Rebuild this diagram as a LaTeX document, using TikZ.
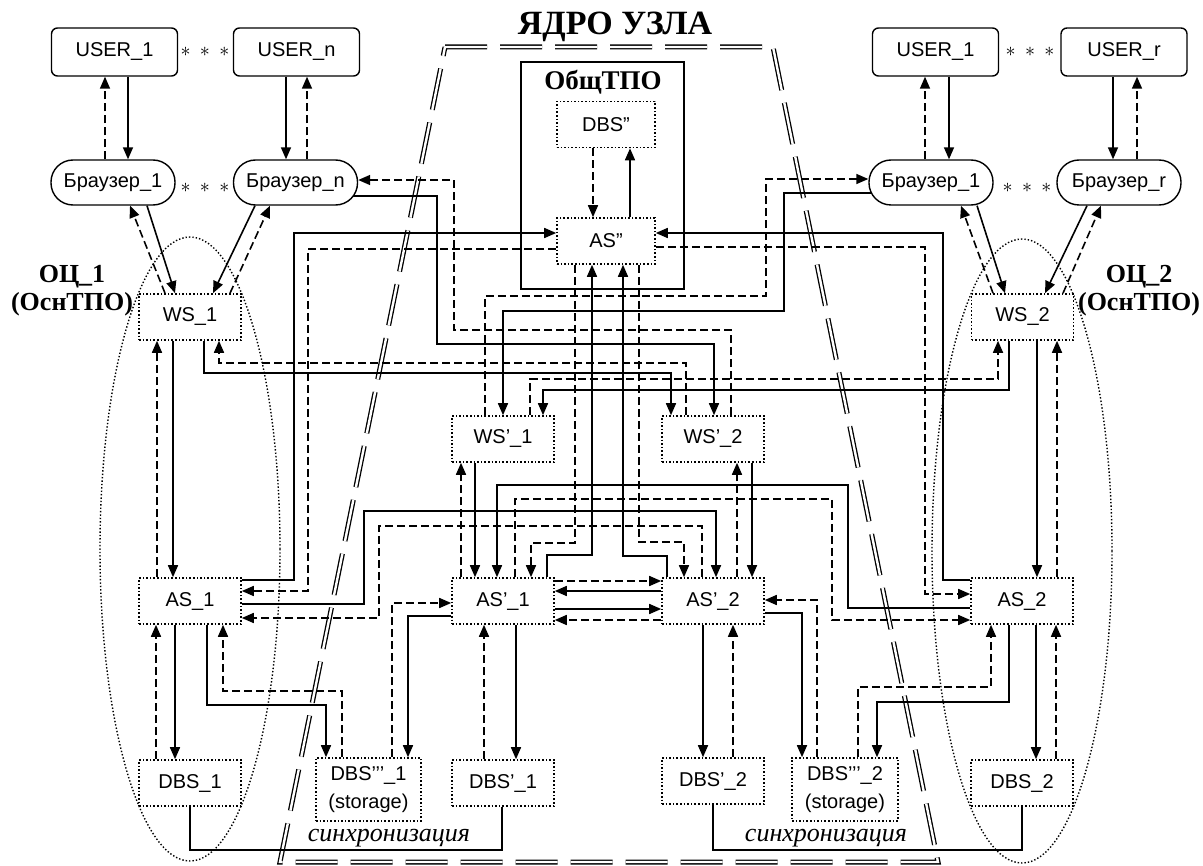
\documentclass[tikz,border=0pt]{standalone}
\usepackage{fontspec}
\setmainfont{Liberation Serif}
\setsansfont{Liberation Sans}
\usetikzlibrary{arrows.meta,calc}
\pgfdeclarelayer{background}
\pgfsetlayers{background,main}
\tikzset{
  srv/.style={draw,densely dotted,line width=0.8pt,fill=white,minimum width=51pt,minimum height=23pt,inner sep=1pt,align=center,font=\sffamily\fontsize{10}{14}\selectfont},
  usr/.style={draw,rounded corners=3pt,line width=0.7pt,fill=white,minimum width=63pt,minimum height=24pt,font=\sffamily\fontsize{10}{12}\selectfont},
  brw/.style={draw,rounded corners=11pt,line width=0.7pt,fill=white,minimum width=62pt,minimum height=22.5pt,inner sep=1pt,font=\sffamily\fontsize{10}{12}\selectfont},
  sol/.style={line width=0.8pt,-{Triangle[length=6pt,width=5pt]}},
  dsh/.style={sol,dash pattern=on 4pt off 2pt},
  lnk/.style={line width=0.8pt},
  ttl/.style={font=\bfseries\fontsize{13}{14}\selectfont,align=center},
  sync/.style={font=\itshape\fontsize{13}{14}\selectfont},
}
\begin{document}
\begin{tikzpicture}[x=0.5pt,y=-0.5pt]
\useasboundingbox (0,0) rectangle (1203,866);
% users
\node[usr] (u1L) at (114.5,52) {USER\_1};
\node[usr] (unL) at (296.5,52) {USER\_n};
\node[usr] (u1R) at (935.5,52) {USER\_1};
\node[usr] (urR) at (1124,52) {USER\_r};
\node (stuL) at (205,52) {$\ast\ \ast\ \ast$};
\node (stuR) at (1030,52) {$\ast\ \ast\ \ast$};
% browsers
\node[brw] (b1L) at (113,182.5) {Браузер\_1};
\node[brw] (bnL) at (295.5,182.5) {Браузер\_n};
\node[brw] (b1R) at (931,182.5) {Браузер\_1};
\node[brw] (brR) at (1119,182.5) {Браузер\_r};
\node (stbL) at (205,188) {$\ast\ \ast\ \ast$};
\node (stbR) at (1027,188) {$\ast\ \ast\ \ast$};
% OC_1 and OC_2
\node[srv] (ws1) at (190,317) {WS\_1};
\node[srv] (as1) at (190,601) {AS\_1};
\node[srv] (dbs1) at (190,783) {DBS\_1};
\node[srv] (ws2) at (1022.5,317) {WS\_2};
\node[srv] (as2) at (1022,601) {AS\_2};
\node[srv] (dbs2) at (1022,783) {DBS\_2};
\node[ttl] (oc1) at (72,291) {ОЦ\_1\\(ОснТПО)};
\node[ttl] (oc2) at (1139,291) {ОЦ\_2\\(ОснТПО)};
% core
\node[srv] (wsp1) at (503,439) {WS’\_1};
\node[srv] (wsp2) at (713,439) {WS’\_2};
\node[srv] (asp1) at (503,601) {AS’\_1};
\node[srv] (asp2) at (713,601) {AS’\_2};
\node[srv] (dbsp1) at (503,783) {DBS’\_1};
\node[srv] (dbsp2) at (713,781) {DBS’\_2};
\node[srv,minimum width=52.5pt,minimum height=31.5pt] (dbst1) at (368.5,789.5) {DBS’’’\_1\\(storage)};
\node[srv,minimum width=53pt,minimum height=31.5pt] (dbst2) at (845,789.5) {DBS’’’\_2\\(storage)};
\node[srv,minimum width=49pt] (dbsdd) at (606,124.5) {DBS”};
\node[srv,minimum width=49pt] (asdd) at (606,241) {AS”};
\draw[line width=0.8pt] (521,62) rectangle (684,289);
\node[ttl,font=\bfseries\fontsize{13.5}{14}\selectfont] (obtpo) at (603,82) {ОбщТПО};
\node[font=\bfseries\fontsize{17}{20}\selectfont] (yadro) at (615,27) {ЯДРО УЗЛА};
\node[sync] (syncL) at (389,838) {синхронизация};
\node[sync] (syncR) at (826,838) {синхронизация};

\begin{pgfonlayer}{background}
% borders
\draw[double,double distance=1.2pt,line width=0.65pt,dash pattern=on 21pt off 6.5pt]
  (445,47) -- (773,47) -- (938,862) -- (280,862) -- cycle;
\draw[densely dotted,line width=0.7pt] (190,549) ellipse [x radius=45pt,y radius=156pt];
\draw[densely dotted,line width=0.7pt] (1022,551) ellipse [x radius=45pt,y radius=156pt];
% user <-> browser
\draw[sol] (u1L.south -| 128,0) -- (b1L.north -| 128,0);
\draw[dsh] (b1L.north -| 105,0) -- (u1L.south -| 105,0);
\draw[sol] (unL.south -| 286,0) -- (bnL.north -| 286,0);
\draw[dsh] (bnL.north -| 307,0) -- (unL.south -| 307,0);
\draw[sol] (u1R.south -| 949,0) -- (b1R.north -| 949,0);
\draw[dsh] (b1R.north -| 925,0) -- (u1R.south -| 925,0);
\draw[sol] (urR.south -| 1113,0) -- (brR.north -| 1113,0);
\draw[dsh] (brR.north -| 1137,0) -- (urR.south -| 1137,0);
% browser <-> WS
\draw[sol] (b1L.south -| 147,0) -- (ws1.north -| 175,0);
\draw[dsh] (ws1.north -| 165,0) -- (b1L.south -| 130,0);
\draw[sol] (bnL.south -| 255,0) -- (ws1.north -| 213,0);
\draw[dsh] (ws1.north -| 230,0) -- (bnL.south -| 270,0);
\draw[sol] (b1R.south -| 977,0) -- (ws2.north -| 1005,0);
\draw[dsh] (ws2.north -| 993,0) -- (b1R.south -| 961,0);
\draw[sol] (brR.south -| 1087,0) -- (ws2.north -| 1045,0);
\draw[dsh] (ws2.north -| 1063,0) -- (brR.south -| 1101,0);
% OC_1
\draw[sol] (ws1.south -| 173,0) -- (as1.north -| 173,0);
\draw[dsh] (as1.north -| 157,0) -- (ws1.south -| 157,0);
\draw[sol] (as1.south -| 175,0) -- (dbs1.north -| 175,0);
\draw[dsh] (dbs1.north -| 156,0) -- (as1.south -| 156,0);
\draw[sol] (as1.south -| 207,0) -- (207,705) -| (dbst1.north -| 326,0);
\draw[dsh] (dbst1.north -| 342,0) -- (342,691) -| (as1.south -| 223,0);
% OC_2
\draw[sol] (ws2.south -| 1037,0) -- (as2.north -| 1037,0);
\draw[dsh] (as2.north -| 1057,0) -- (ws2.south -| 1057,0);
\draw[sol] (as2.south -| 1036,0) -- (dbs2.north -| 1036,0);
\draw[dsh] (dbs2.north -| 1056,0) -- (as2.south -| 1056,0);
\draw[sol] (as2.south -| 1009,0) -- (1009,702) -| (dbst2.north -| 877,0);
\draw[dsh] (dbst2.north -| 858,0) -- (858,687) -| (as2.south -| 991,0);
% core
\draw[sol] (wsp1.south -| 475,0) -- (asp1.north -| 475,0);
\draw[dsh] (asp1.north -| 461,0) -- (wsp1.south -| 461,0);
\draw[sol] (wsp2.south -| 752,0) -- (asp2.north -| 752,0);
\draw[dsh] (asp2.north -| 737,0) -- (wsp2.south -| 737,0);
\draw[sol] (asp1.south -| 516,0) -- (dbsp1.north -| 516,0);
\draw[dsh] (dbsp1.north -| 484,0) -- (asp1.south -| 484,0);
\draw[sol] (asp2.south -| 703,0) -- (dbsp2.north -| 703,0);
\draw[dsh] (dbsp2.north -| 733,0) -- (asp2.south -| 733,0);
\draw[dsh] (asp1.east |- 0,581) -- (asp2.west |- 0,581);
\draw[sol] (asp2.west |- 0,591) -- (asp1.east |- 0,591);
\draw[sol] (asp1.east |- 0,609) -- (asp2.west |- 0,609);
\draw[dsh] (asp2.west |- 0,620) -- (asp1.east |- 0,620);
\draw[sol] (asp1.west |- 0,616) -| (dbst1.north -| 408,0);
\draw[dsh] (dbst1.north -| 392,0) |- (asp1.west |- 0,603);
\draw[sol] (asp2.east |- 0,613) -| (dbst2.north -| 802,0);
\draw[dsh] (dbst2.north -| 817,0) |- (asp2.east |- 0,600);
% common AS''
\draw[dsh] (dbsdd.south -| 593,0) -- (asdd.north -| 593,0);
\draw[sol] (asdd.north -| 630,0) -- (dbsdd.south -| 630,0);
\draw[sol] (asp1.north -| 547,0) -- (547,555) -| (asdd.south -| 592,0);
\draw[sol] (asp2.north -| 667,0) -- (667,556) -| (asdd.south -| 623,0);
\draw[dsh] (asdd.south -| 575,0) -- (575,543) -| (asp1.north -| 531,0);
\draw[dsh] (asdd.south -| 639,0) -- (639,542) -| (asp2.north -| 684,0);
% long routes
\draw[dsh] (wsp2.north -| 731,0) -- (731,330) -| (454,180) -- (bnL.east |- 0,180);
\draw[sol] (bnL.center |- 0,196) -- (437,196) |- (714,344) -- (wsp2.north -| 714,0);
\draw[dsh] (wsp1.north -| 485,0) -- (485,296) -| (766,179) -- (b1R.west |- 0,179);
\draw[sol] (b1R.center |- 0,193) -- (784,193) |- (503,311) -- (wsp1.north -| 503,0);
\draw[sol] (as1.east |- 0,580) -| (294,233) -- (asdd.west |- 0,233);
\draw[dsh] (asdd.west |- 0,249) -| (308,591) -- (as1.east |- 0,591);
\draw[sol] (ws1.south -| 204,0) |- (671,373) -- (wsp2.north -| 671,0);
\draw[dsh] (wsp2.north -| 686,0) |- (219,363) -- (ws1.south -| 219,0);
\draw[sol] (as2.west |- 0,580) -| (943,233) -- (asdd.east |- 0,233);
\draw[dsh] (asdd.east |- 0,247) -| (925,594) -- (as2.west |- 0,594);
\draw[sol] (ws2.south -| 1009,0) |- (543,390) -- (wsp1.north -| 543,0);
\draw[dsh] (wsp1.north -| 530,0) |- (998,379) -- (ws2.south -| 998,0);
\draw[sol] (as2.west |- 0,608) -| (848,485) -| (asp1.north -| 497,0);
\draw[dsh] (asp1.north -| 515,0) |- (832,499) |- (as2.west |- 0,620);
\draw[sol] (as1.east |- 0,604) -| (364,511) -| (asp2.north -| 716,0);
\draw[dsh] (asp2.north -| 702,0) |- (379,526) |- (as1.east |- 0,618);
% synchronisation
\draw[lnk] (dbs1.south) |- (502,850) -- (dbsp1.south -| 502,0);
\draw[lnk] (dbsp2.south) |- (1022,850) -- (dbs2.south -| 1022,0);
\end{pgfonlayer}
\end{tikzpicture}
\end{document}
